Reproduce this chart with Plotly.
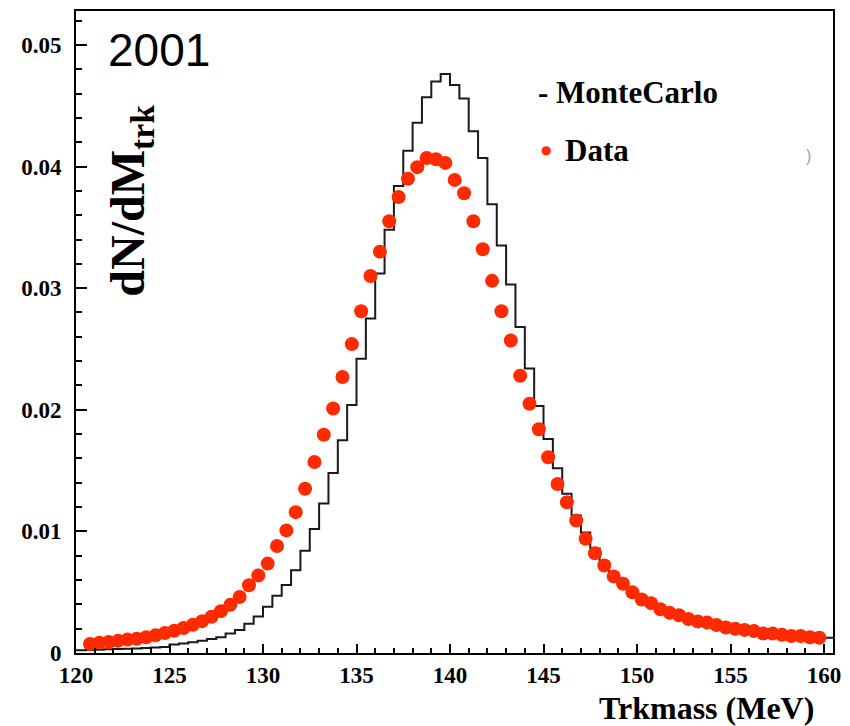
import numpy as np
import plotly.graph_objects as go

# Monte Carlo histogram: 0.5 MeV bins, left edges 120.0 ... 159.5
mc_left_edges = np.arange(120.0, 160.0, 0.5)
mc_values = [
    0.00022, 0.00025, 0.00027, 0.00030, 0.00032, 0.00035, 0.00038, 0.00041, 0.00045, 0.00050,
    0.00070, 0.00078, 0.00088, 0.00100, 0.00115, 0.00130, 0.00160, 0.00190, 0.00240, 0.00300,
    0.00380, 0.00470, 0.00560, 0.00680, 0.00840, 0.01020, 0.01230, 0.01480, 0.01750, 0.02040,
    0.02420, 0.02750, 0.03120, 0.03480, 0.03840, 0.04130, 0.04360, 0.04570, 0.04700, 0.04760,
    0.04670, 0.04560, 0.04290, 0.04070, 0.03690, 0.03350, 0.03030, 0.02680, 0.02340, 0.02030,
    0.01760, 0.01520, 0.01310, 0.01130, 0.00990, 0.00860, 0.00750, 0.00660, 0.00590, 0.00520,
    0.00460, 0.00420, 0.00380, 0.00340, 0.00310, 0.00290, 0.00270, 0.00250, 0.00230, 0.00210,
    0.00200, 0.00190, 0.00180, 0.00170, 0.00160, 0.00150, 0.00145, 0.00140, 0.00133, 0.00125,
]

# Data points at bin centres 120.75 ... 159.75
data_x = np.arange(120.75, 160.0, 0.5)
data_values = [
    0.00074, 0.00085, 0.00090, 0.00100, 0.00110, 0.00117, 0.00130, 0.00145, 0.00164, 0.00183,
    0.00205, 0.00232, 0.00262, 0.00298, 0.00344, 0.00396, 0.00461, 0.00557, 0.00637, 0.00735,
    0.00880, 0.01008, 0.01158, 0.01350, 0.01570, 0.01795, 0.02010, 0.02270, 0.02540, 0.02810,
    0.03100, 0.03300, 0.03550, 0.03750, 0.03900, 0.03995, 0.04070, 0.04060, 0.04030, 0.03890,
    0.03780, 0.03550, 0.03320, 0.03060, 0.02810, 0.02570, 0.02280, 0.02050, 0.01840, 0.01610,
    0.01390, 0.01240, 0.01090, 0.00940, 0.00820, 0.00720, 0.00630, 0.00570, 0.00500, 0.00440,
    0.00410, 0.00360, 0.00330, 0.00310, 0.00280, 0.00260, 0.00250, 0.00230, 0.00210, 0.00200,
    0.00190, 0.00180, 0.00160, 0.00160, 0.00150, 0.00140, 0.00140, 0.00130, 0.00125,
]

x_ticks = [120, 125, 130, 135, 140, 145, 150, 155, 160]
y_ticks = [0, 0.01, 0.02, 0.03, 0.04, 0.05]
y_tick_labels = ["0", "0.01", "0.02", "0.03", "0.04", "0.05"]

X_RANGE = [120, 160.48]
Y_RANGE = [0, 0.05279]

assert len(mc_values) == len(mc_left_edges)
assert len(data_values) == len(data_x)

RED = "#ff2a00"
SERIF = "Liberation Serif"

step_x = list(mc_left_edges) + [X_RANGE[1]]
step_y = list(mc_values) + [mc_values[-1]]

fig = go.Figure()
fig.add_trace(go.Scatter(
    x=step_x, y=step_y, mode="lines", line_shape="hv",
    line=dict(color="#1a1a1a", width=2), showlegend=False, hoverinfo="skip"))
fig.add_trace(go.Scatter(
    x=data_x, y=data_values, mode="markers",
    marker=dict(color=RED, size=14, line=dict(width=0)), showlegend=False))

axis_common = dict(
    showgrid=False, zeroline=False, showline=True, linecolor="black", linewidth=2,
    mirror=True, ticks="inside", tickcolor="black", tickwidth=1.5,
)
fig.update_xaxes(
    range=X_RANGE, tickvals=x_ticks, ticklen=9,
    tickfont=dict(family=SERIF, size=23, color="black", weight="bold"),
    minor=dict(dtick=1, ticks="inside", ticklen=5, tickcolor="black", tickwidth=1.5),
    **axis_common)
fig.update_yaxes(
    range=Y_RANGE, tickvals=y_ticks, ticktext=y_tick_labels, ticklen=11,
    tickfont=dict(family=SERIF, size=23, color="black", weight="bold"),
    ticklabelstandoff=8,
    minor=dict(dtick=0.002, ticks="inside", ticklen=6, tickcolor="black", tickwidth=1.5),
    **axis_common)

annotations = [
    dict(text="2001", x=0.04, y=0.983, xref="paper", yref="paper", xanchor="left", yanchor="top",
         showarrow=False, font=dict(family="Liberation Sans", size=46, color="black")),
    dict(text="<b>dN/dM<sub>trk</sub></b>", x=0.073, y=0.705, xref="paper", yref="paper",
         xanchor="center", yanchor="middle", textangle=-90, showarrow=False,
         font=dict(family=SERIF, size=48, color="black")),
    dict(text="<b>- MonteCarlo</b>", x=0.608, y=0.873, xref="paper", yref="paper",
         xanchor="left", yanchor="middle", showarrow=False,
         font=dict(family=SERIF, size=31, color="black")),
    dict(text="●", x=0.612, y=0.783, xref="paper", yref="paper",
         xanchor="left", yanchor="middle", showarrow=False,
         font=dict(family="DejaVu Sans", size=12, color=RED)),
    dict(text="<b>Data</b>", x=0.643, y=0.783, xref="paper", yref="paper",
         xanchor="left", yanchor="middle", showarrow=False,
         font=dict(family=SERIF, size=31, color="black")),
    dict(text=")", x=0.967, y=0.774, xref="paper", yref="paper",
         xanchor="center", yanchor="middle", showarrow=False,
         font=dict(family="DejaVu Sans", size=18, color="#aaaaaa")),
    dict(text="<b>Trkmass (MeV)</b>", x=0.977, y=0, xref="paper", yref="paper",
         xanchor="right", yanchor="middle", yshift=-55, showarrow=False,
         font=dict(family=SERIF, size=32, color="black")),
]

fig.update_layout(
    width=850, height=726,
    margin=dict(l=76, r=13, t=9, b=73),
    paper_bgcolor="white", plot_bgcolor="white",
    annotations=annotations,
    showlegend=False,
)

fig.write_html("out.html")
